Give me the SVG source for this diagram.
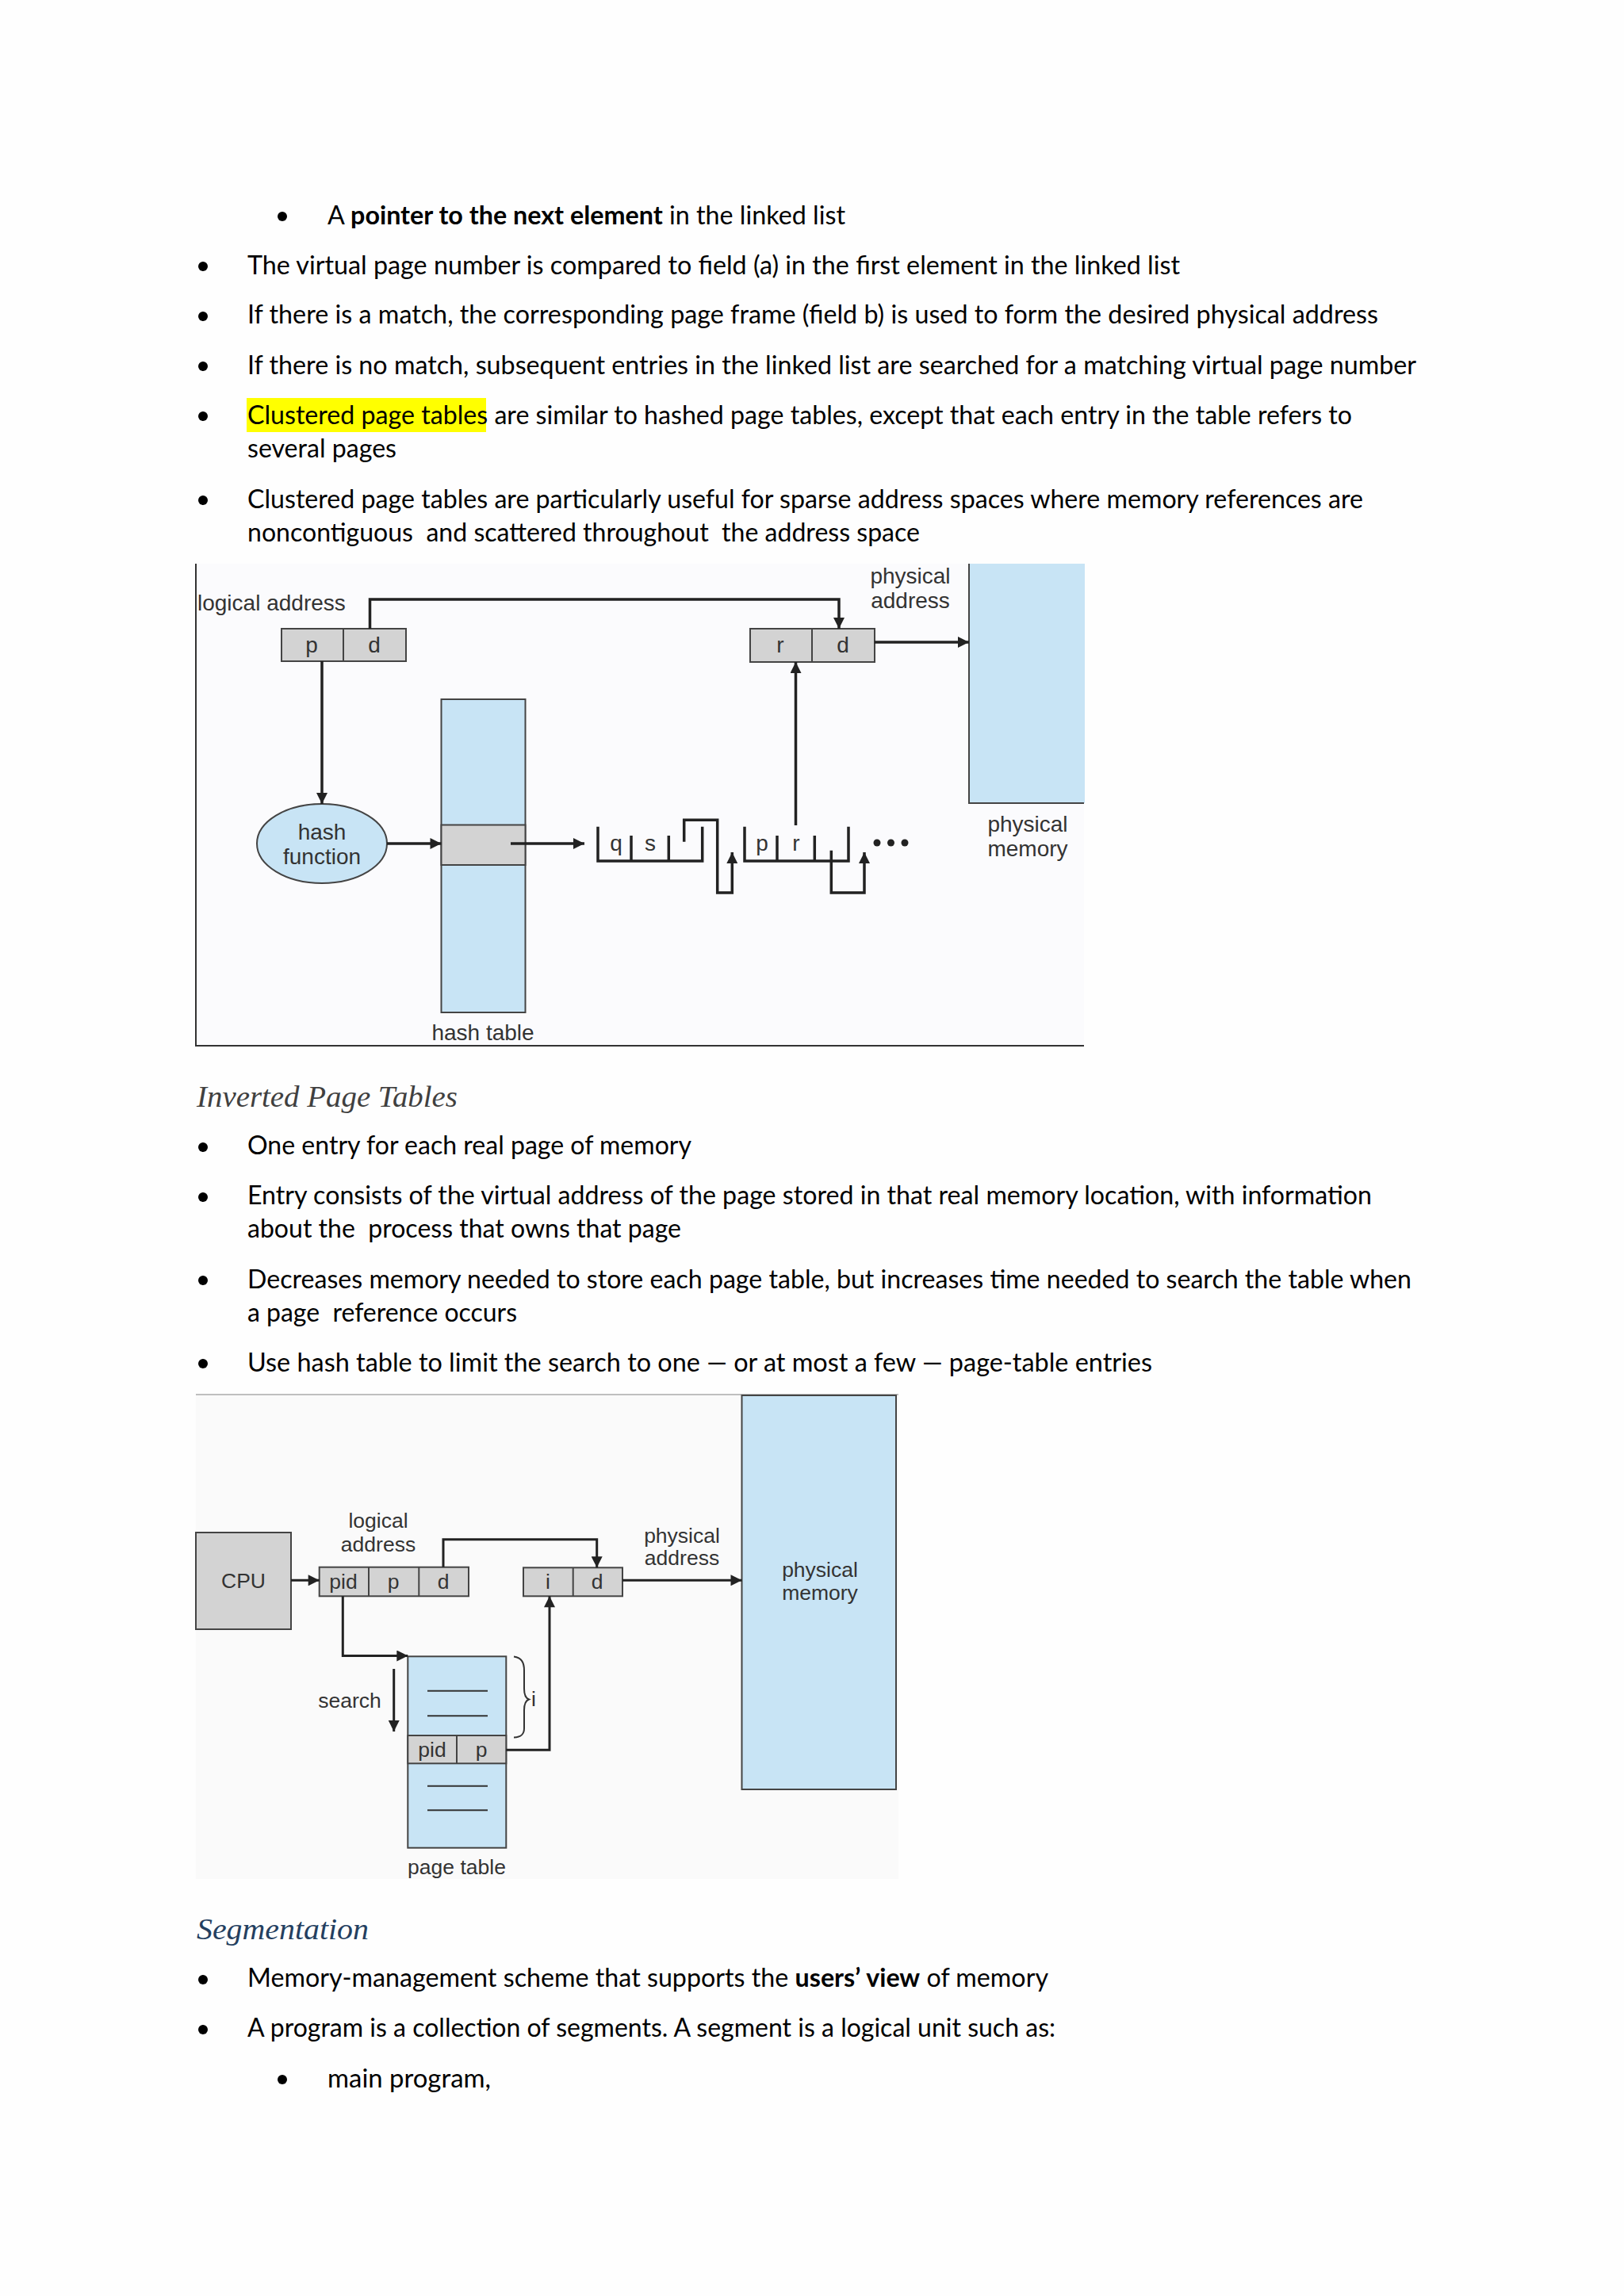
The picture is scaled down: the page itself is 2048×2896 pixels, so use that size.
<svg xmlns="http://www.w3.org/2000/svg" width="2048" height="2896" viewBox="0 0 2048 2896">
<style>
.body{font-family:Lato,"Liberation Sans",sans-serif;font-size:32px;fill:#000}
.b{font-weight:bold}
.h{font-family:"Liberation Serif",serif;font-style:italic;font-size:38px}
.dl{font-family:"Liberation Sans",Arial,sans-serif;font-size:28px;fill:#333}
.dl2{font-family:"Liberation Sans",Arial,sans-serif;font-size:26.5px;fill:#333}
.con{fill:none;stroke:#222;stroke-width:3.5}
.con2{fill:none;stroke:#222;stroke-width:3}
.box{fill:#d3d3d3;stroke:#444;stroke-width:2}
.blue{fill:#c8e4f5;stroke:#444;stroke-width:2}
.thin{fill:none;stroke:#333;stroke-width:2}
</style>
<defs>
<marker id="ah" viewBox="0 0 10 10" markerUnits="userSpaceOnUse" markerWidth="15" markerHeight="14" refX="10" refY="5" orient="auto">
<path d="M0,0 L10,5 L0,10 z" fill="#222"/>
</marker>
</defs>
<rect width="2048" height="2896" fill="#fefefe"/>

<g id="text-top">
<circle cx="356" cy="273" r="6"/>
<text class="body" x="413" y="283" textLength="653" lengthAdjust="spacingAndGlyphs">A <tspan class="b">pointer to the next element</tspan> in the linked list</text>
<circle cx="256" cy="336" r="6"/>
<text class="body" x="312" y="346" textLength="1176" lengthAdjust="spacingAndGlyphs">The virtual page number is compared to field (a) in the first element in the linked list</text>
<circle cx="256" cy="399" r="6"/>
<text class="body" x="312" y="408" textLength="1426" lengthAdjust="spacingAndGlyphs">If there is a match, the corresponding page frame (field b) is used to form the desired physical address</text>
<circle cx="256" cy="462" r="6"/>
<text class="body" x="312" y="472" textLength="1474" lengthAdjust="spacingAndGlyphs">If there is no match, subsequent entries in the linked list are searched for a matching virtual page number</text>
<rect x="311" y="502" width="302" height="43" fill="#ffff00"/>
<circle cx="256" cy="525" r="6"/>
<text class="body" x="312" y="535" textLength="1393" lengthAdjust="spacingAndGlyphs">Clustered page tables are similar to hashed page tables, except that each entry in the table refers to</text>
<text class="body" x="312" y="577" textLength="188" lengthAdjust="spacingAndGlyphs">several pages</text>
<circle cx="256" cy="631" r="6"/>
<text class="body" x="312" y="641" textLength="1407" lengthAdjust="spacingAndGlyphs">Clustered page tables are particularly useful for sparse address spaces where memory references are</text>
<text class="body" x="312" y="683" textLength="848" lengthAdjust="spacingAndGlyphs" xml:space="preserve">noncontiguous  and scattered throughout  the address space</text>
</g>

<g id="diagram1">
<rect x="247" y="711" width="1120" height="608" fill="#fbfbfd"/>
<path d="M247,711 V1319 H1367" fill="none" stroke="#333" stroke-width="2"/>
<g id="d1-logical-label"><text class="dl" x="249" y="770">logical address</text></g>
<g id="d1-pd">
<rect class="box" x="355" y="793" width="157" height="41"/>
<line x1="433" y1="793" x2="433" y2="834" stroke="#444" stroke-width="2"/>
<text class="dl" x="393" y="823" text-anchor="middle">p</text>
<text class="dl" x="472" y="823" text-anchor="middle">d</text>
</g>
<g id="d1-rd">
<rect class="box" x="946" y="793" width="157" height="42"/>
<line x1="1024" y1="793" x2="1024" y2="835" stroke="#444" stroke-width="2"/>
<text class="dl" x="984" y="823" text-anchor="middle">r</text>
<text class="dl" x="1063" y="823" text-anchor="middle">d</text>
</g>
<g id="d1-physaddr-label">
<text class="dl" x="1148" y="736" text-anchor="middle">physical</text>
<text class="dl" x="1148" y="767" text-anchor="middle">address</text>
</g>
<g id="d1-physmem">
<rect x="1222" y="711" width="146" height="302" fill="#c8e4f5"/>
<path d="M1222,711 V1013 H1367" fill="none" stroke="#444" stroke-width="2"/>
<text class="dl" x="1296" y="1049" text-anchor="middle">physical</text>
<text class="dl" x="1296" y="1080" text-anchor="middle">memory</text>
</g>
<g id="d1-hash">
<ellipse class="blue" cx="406" cy="1064" rx="82" ry="50"/>
<text class="dl" x="406" y="1059" text-anchor="middle">hash</text>
<text class="dl" x="406" y="1090" text-anchor="middle">function</text>
</g>
<g id="d1-hashtable">
<rect class="blue" x="556.5" y="882" width="106" height="395"/>
<rect class="box" x="556.5" y="1040.5" width="106" height="50.5"/>
<text class="dl" x="609" y="1312" text-anchor="middle">hash table</text>
</g>
<g id="d1-node1">
<path class="con" d="M754,1042.7 V1086 H885.7 V1042.7 M796,1054 V1086 M843.3,1054 V1086"/>
<text class="dl" x="777" y="1073" text-anchor="middle">q</text>
<text class="dl" x="820" y="1073" text-anchor="middle">s</text>
</g>
<g id="d1-node2">
<path class="con" d="M939,1042.7 V1086 H1070 V1042.7 M980,1054 V1086 M1027.3,1054 V1086"/>
<text class="dl" x="961" y="1073" text-anchor="middle">p</text>
<text class="dl" x="1004" y="1073" text-anchor="middle">r</text>
</g>
<g id="d1-dots">
<circle cx="1106" cy="1063" r="4.5" fill="#222"/>
<circle cx="1123.5" cy="1063" r="4.5" fill="#222"/>
<circle cx="1141" cy="1063" r="4.5" fill="#222"/>
</g>
<g id="d1-connectors">
<path class="con" d="M466.5,793 V756 H1058 V793" marker-end="url(#ah)"/>
<path class="con" d="M406,834 V1014" marker-end="url(#ah)"/>
<path class="con" d="M488,1064 H556.5" marker-end="url(#ah)"/>
<path class="con" d="M644,1064 H737" marker-end="url(#ah)"/>
<path class="con" d="M1003.5,1041 V835" marker-end="url(#ah)"/>
<path class="con" d="M1102.7,810 H1222" marker-end="url(#ah)"/>
<path class="con" d="M862.7,1061.7 V1034.3 H904.7 V1126 H923.3 V1075" marker-end="url(#ah)"/>
<path class="con" d="M1048.3,1072.7 V1126 H1090 V1075" marker-end="url(#ah)"/>
</g>
</g>

<g id="text-inverted">
<text class="h" x="248" y="1396" fill="#404040" textLength="329" lengthAdjust="spacingAndGlyphs">Inverted Page Tables</text>
<circle cx="256" cy="1447" r="6"/>
<text class="body" x="312" y="1456" textLength="560" lengthAdjust="spacingAndGlyphs">One entry for each real page of memory</text>
<circle cx="256" cy="1510" r="6"/>
<text class="body" x="312" y="1519" textLength="1418" lengthAdjust="spacingAndGlyphs">Entry consists of the virtual address of the page stored in that real memory location, with information</text>
<text class="body" x="312" y="1561" textLength="547" lengthAdjust="spacingAndGlyphs" xml:space="preserve">about the  process that owns that page</text>
<circle cx="256" cy="1615" r="6"/>
<text class="body" x="312" y="1625" textLength="1468" lengthAdjust="spacingAndGlyphs">Decreases memory needed to store each page table, but increases time needed to search the table when</text>
<text class="body" x="312" y="1667" textLength="340" lengthAdjust="spacingAndGlyphs" xml:space="preserve">a page  reference occurs</text>
<circle cx="256" cy="1720" r="6"/>
<text class="body" x="312" y="1730" textLength="1141" lengthAdjust="spacingAndGlyphs">Use hash table to limit the search to one — or at most a few — page-table entries</text>
</g>

<g id="diagram2">
<rect x="247" y="1759" width="886" height="611" fill="#fafafa"/>
<line x1="247" y1="1759" x2="1133" y2="1759" stroke="#aaa" stroke-width="1.5"/>
<g id="d2-cpu">
<rect class="box" x="247" y="1933" width="120" height="122"/>
<text class="dl2" x="307" y="2003" text-anchor="middle">CPU</text>
</g>
<g id="d2-logical">
<text class="dl2" x="477" y="1927" text-anchor="middle">logical</text>
<text class="dl2" x="477" y="1957" text-anchor="middle">address</text>
<rect class="box" x="402.7" y="1976.7" width="188.3" height="36.6"/>
<line x1="465" y1="1976.7" x2="465" y2="2013.3" stroke="#444" stroke-width="2"/>
<line x1="528.3" y1="1976.7" x2="528.3" y2="2013.3" stroke="#444" stroke-width="2"/>
<text class="dl2" x="433" y="2004" text-anchor="middle">pid</text>
<text class="dl2" x="496" y="2004" text-anchor="middle">p</text>
<text class="dl2" x="559" y="2004" text-anchor="middle">d</text>
</g>
<g id="d2-physaddr">
<text class="dl2" x="860" y="1946" text-anchor="middle">physical</text>
<text class="dl2" x="860" y="1974" text-anchor="middle">address</text>
<rect class="box" x="660" y="1977.3" width="125" height="36"/>
<line x1="722.7" y1="1977.3" x2="722.7" y2="2013.3" stroke="#444" stroke-width="2"/>
<text class="dl2" x="691" y="2004" text-anchor="middle">i</text>
<text class="dl2" x="753" y="2004" text-anchor="middle">d</text>
</g>
<g id="d2-physmem">
<rect class="blue" x="935.5" y="1760" width="194.5" height="497"/>
<text class="dl2" x="1034" y="1989" text-anchor="middle">physical</text>
<text class="dl2" x="1034" y="2018" text-anchor="middle">memory</text>
</g>
<g id="d2-pagetable">
<rect class="blue" x="514.3" y="2089.3" width="124" height="241.4"/>
<rect class="box" x="514.3" y="2189" width="124" height="35.3"/>
<line x1="576" y1="2189" x2="576" y2="2224.3" stroke="#444" stroke-width="2"/>
<text class="dl2" x="545" y="2216" text-anchor="middle">pid</text>
<text class="dl2" x="607" y="2216" text-anchor="middle">p</text>
<path class="thin" d="M539,2132.7 H615 M539,2164.3 H615 M539,2252.7 H615 M539,2283.3 H615"/>
<text class="dl2" x="576" y="2364" text-anchor="middle">page table</text>
</g>
<g id="d2-search">
<text class="dl2" x="441" y="2154" text-anchor="middle">search</text>
</g>
<g id="d2-brace">
<path class="thin" d="M648,2089.5 C658,2091 661,2097 661,2107 V2130 C661,2138 663,2142 667,2143.5 C663,2145 661,2149 661,2157 V2180 C661,2187 658,2191 648,2191.5"/>
<text class="dl2" x="673" y="2152" text-anchor="middle">i</text>
</g>
<g id="d2-connectors">
<path class="con2" d="M367,1993.3 H402.7" marker-end="url(#ah)"/>
<path class="con2" d="M559,1976.7 V1941.7 H752.7 V1977.3" marker-end="url(#ah)"/>
<path class="con2" d="M785,1993.3 H935.5" marker-end="url(#ah)"/>
<path class="con2" d="M432.3,2013.3 V2088.5 H514.3" marker-end="url(#ah)"/>
<path class="con2" d="M638.3,2207.3 H693 V2013.3" marker-end="url(#ah)"/>
<path class="con2" d="M496.7,2105 V2184" marker-end="url(#ah)"/>
</g>
</g>

<g id="text-segmentation">
<text class="h" x="248" y="2446" fill="#243f60" textLength="217" lengthAdjust="spacingAndGlyphs">Segmentation</text>
<circle cx="256" cy="2497" r="6"/>
<text class="body" x="312" y="2506" textLength="1010" lengthAdjust="spacingAndGlyphs">Memory-management scheme that supports the <tspan class="b">users’ view</tspan> of memory</text>
<circle cx="256" cy="2560" r="6"/>
<text class="body" x="312" y="2569" textLength="1019" lengthAdjust="spacingAndGlyphs">A program is a collection of segments. A segment is a logical unit such as:</text>
<circle cx="356" cy="2623" r="6"/>
<text class="body" x="413" y="2633" textLength="206" lengthAdjust="spacingAndGlyphs">main program,</text>
</g>
</svg>
